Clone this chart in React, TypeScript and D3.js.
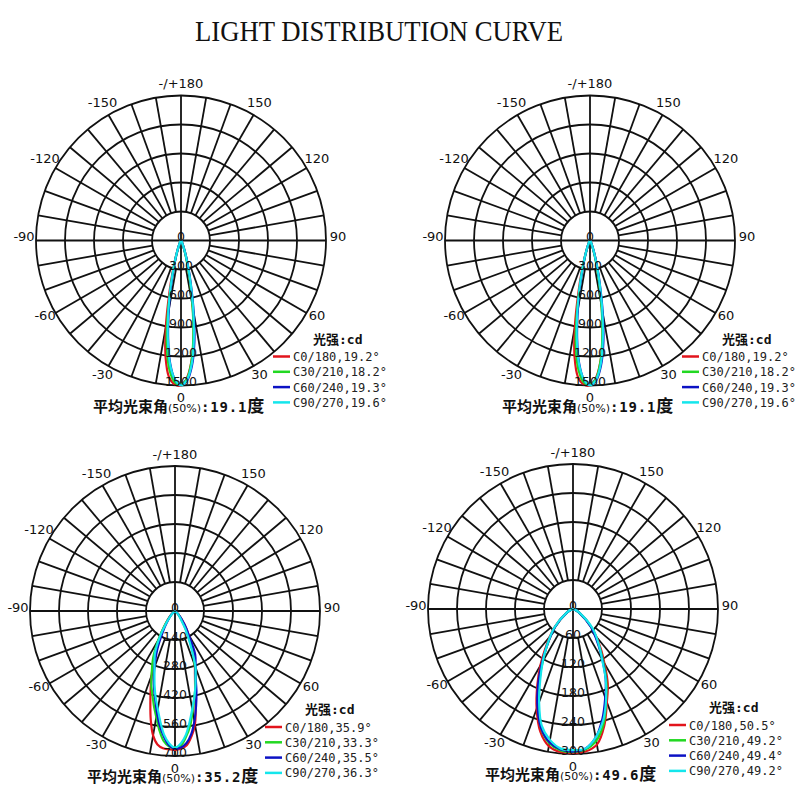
import React from "react";
import * as d3 from "d3";

const R = 145;

// angles (deg, 0 = straight down, positive to the right)
const narrowAngles = [-45, -35, -30, -25, -20, -17.5, -15, -12.5, -10, -7.5, -5, -2.5, 0, 2.5, 5, 7.5, 10, 12.5, 15, 17.5, 20, 25, 30, 35, 45];
const narrowC0 = [0, 5, 15, 40, 100, 190, 330, 560, 900, 1220, 1420, 1490, 1500, 1420, 1250, 1000, 700, 450, 280, 170, 95, 35, 12, 4, 0];
const narrowC30 = [0, 4, 12, 35, 90, 170, 290, 480, 800, 1120, 1350, 1470, 1490, 1430, 1250, 980, 680, 420, 250, 150, 85, 30, 10, 3, 0];
const narrowC60 = [0, 4, 12, 35, 95, 170, 280, 460, 720, 1020, 1280, 1440, 1495, 1450, 1300, 1060, 760, 480, 300, 180, 100, 38, 13, 4, 0];
const narrowC90 = [0, 4, 12, 38, 100, 180, 300, 500, 760, 1040, 1290, 1440, 1500, 1440, 1280, 1020, 730, 470, 290, 170, 95, 35, 12, 4, 0];

const mediumAngles = [-60, -45, -35, -30, -25, -20, -17.5, -15, -12.5, -10, -7.5, -5, -2.5, 0, 2.5, 5, 7.5, 10, 12.5, 15, 17.5, 20, 25, 30, 35, 45, 60];
const mediumC0 = [0, 30, 90, 150, 230, 330, 390, 460, 540, 610, 650, 665, 668, 670, 665, 650, 610, 555, 460, 375, 320, 280, 200, 130, 80, 25, 0];
const mediumC30 = [0, 25, 90, 160, 250, 330, 380, 420, 470, 520, 580, 630, 655, 660, 650, 610, 560, 490, 430, 380, 330, 280, 190, 110, 60, 20, 0];
const mediumC60 = [0, 25, 70, 120, 200, 290, 340, 390, 440, 500, 560, 610, 650, 665, 660, 640, 600, 540, 470, 400, 330, 290, 230, 130, 80, 25, 0];
const mediumC90 = [0, 20, 80, 150, 230, 290, 330, 380, 430, 480, 540, 600, 640, 660, 640, 600, 540, 480, 430, 380, 330, 290, 170, 100, 50, 20, 0];

const wideAngles = [-90, -75, -60, -45, -35, -30, -25, -20, -15, -10, -5, 0, 5, 10, 15, 20, 25, 30, 35, 45, 60, 75, 90];
const wideC0 = [0, 3, 15, 55, 100, 135, 175, 220, 262, 288, 297, 298, 296, 285, 250, 205, 170, 130, 100, 55, 15, 3, 0];
const wideC30 = [0, 3, 14, 52, 95, 125, 165, 210, 255, 282, 294, 296, 292, 277, 245, 200, 163, 125, 95, 55, 14, 3, 0];
const wideC60 = [0, 3, 14, 52, 95, 128, 170, 215, 255, 280, 292, 295, 290, 270, 235, 195, 160, 122, 92, 52, 14, 3, 0];
const wideC90 = [0, 3, 15, 55, 95, 125, 160, 205, 250, 275, 290, 292, 290, 270, 240, 200, 160, 120, 95, 58, 15, 3, 0];

const planeNames = ["C0/180", "C30/210", "C60/240", "C90/270"];
const planeColors = ["#e2141c", "#22d822", "#0c12c4", "#14e6ec"];

const narrowBeams = [19.2, 18.2, 19.3, 19.6];
const mediumBeams = [35.9, 33.3, 35.5, 36.3];
const wideBeams = [50.5, 49.2, 49.4, 49.2];

const narrowTicks = [0, 300, 600, 900, 1200, 1500];
const mediumTicks = [0, 140, 280, 420, 560, 700];
const wideTicks = [0, 60, 120, 180, 240, 300];

const angleTicks = [0, 30, 60, 90, 120, 150, 180, -150, -120, -90, -60, -30];

const charts = [
    { cx: 181, cy: 240.5, angles: narrowAngles, series: [narrowC0, narrowC30, narrowC60, narrowC90], ticks: narrowTicks, beams: narrowBeams, avg: "19.1", legendDx: 0 },
    { cx: 590, cy: 240.5, angles: narrowAngles, series: [narrowC0, narrowC30, narrowC60, narrowC90], ticks: narrowTicks, beams: narrowBeams, avg: "19.1", legendDx: 0 },
    { cx: 175, cy: 611, angles: mediumAngles, series: [mediumC0, mediumC30, mediumC60, mediumC90], ticks: mediumTicks, beams: mediumBeams, avg: "35.2", legendDx: -2 },
    { cx: 573, cy: 609, angles: wideAngles, series: [wideC0, wideC30, wideC60, wideC90], ticks: wideTicks, beams: wideBeams, avg: "49.6", legendDx: 4 }
];

const rad = (deg: number) => (deg * Math.PI) / 180;

function PolarChart({ cx, cy, angles, series, ticks, beams, avg, legendDx }: any) {
    const maxVal = ticks[ticks.length - 1];
    const rScale = d3.scaleLinear().domain([0, maxVal]).range([0, R]);
    const r1 = rScale(ticks[1]);

    const line = d3
        .lineRadial<[number, number]>()
        .angle(d => Math.PI - rad(d[0]))
        .radius(d => rScale(d[1]))
        .curve(d3.curveCatmullRom.alpha(0.5));

    const spokes = d3.range(0, 360, 10).filter(a => a % 90 !== 0);

    return (
        <g>
            <g transform={`translate(${cx},${cy})`} stroke="#111" fill="none" strokeWidth={1.8}>
                {ticks.slice(1).map((t: number) => (
                    <circle key={t} r={rScale(t)} />
                ))}
                {spokes.map(a => (
                    <line
                        key={a}
                        x1={r1 * Math.sin(rad(a))}
                        y1={r1 * Math.cos(rad(a))}
                        x2={R * Math.sin(rad(a))}
                        y2={R * Math.cos(rad(a))}
                    />
                ))}
                <line x1={0} y1={-R} x2={0} y2={R} />
                <line x1={-R} y1={0} x2={R} y2={0} />
            </g>

            <g transform={`translate(${cx},${cy})`} fill="none" strokeWidth={2.2}>
                {series.map((vals: number[], i: number) => (
                    <path
                        key={i}
                        d={line(angles.map((a: number, j: number) => [a, vals[j]] as [number, number])) || ""}
                        stroke={planeColors[i]}
                        strokeLinejoin="round"
                    />
                ))}
            </g>

            <g transform={`translate(${cx},${cy})`} fontFamily="DejaVu Sans" fontSize={12.5} fill="#111" textAnchor="middle">
                {ticks.map((t: number) => (
                    <text key={t} x={0} y={rScale(t) + 0.5}>
                        {t}
                    </text>
                ))}
            </g>

            <g transform={`translate(${cx},${cy})`} fontFamily="DejaVu Sans" fontSize={13} fill="#111" textAnchor="middle" dominantBaseline="central">
                {angleTicks.map(a => (
                    <text
                        key={a}
                        x={157 * Math.sin(rad(a))}
                        y={157 * Math.cos(rad(a)) - 4 * Math.abs(Math.sin(rad(a)))}
                    >
                        {a === 180 ? "-/+180" : a}
                    </text>
                ))}
            </g>

            <g transform={`translate(${cx + legendDx},${cy})`}>
                <text x={132} y={103} fontSize={13} fontWeight={700} fill="#111">
                    <tspan fontFamily="Noto Sans CJK SC">光强</tspan>
                    <tspan fontFamily="DejaVu Sans Mono">:cd</tspan>
                </text>
                {planeNames.map((name, i) => (
                    <g key={name} transform={`translate(0,${116 + i * 15.3})`}>
                        <line x1={92} x2={109} y1={0} y2={0} stroke={planeColors[i]} strokeWidth={2.5} />
                        <text x={112} y={4.5} fontFamily="DejaVu Sans Mono" fontSize={12} fill="#222">
                            {`${name},${beams[i]}°`}
                        </text>
                    </g>
                ))}
            </g>

            <text x={cx - 88} y={cy + 171} fill="#111">
                <tspan fontFamily="Noto Sans CJK SC" fontWeight={700} fontSize={15}>平均光束角</tspan>
                <tspan fontFamily="DejaVu Sans" fontSize={11}>(50%)</tspan>
                <tspan fontFamily="DejaVu Sans Mono" fontWeight={700} fontSize={14} letterSpacing={0.8}>{`:${avg}`}</tspan>
                <tspan fontFamily="Noto Sans CJK SC" fontWeight={700} fontSize={17}>度</tspan>
            </text>
        </g>
    );
}

export default function App() {
    return (
        <div style={{ position: "absolute", left: 0, top: 0 }}>
            <svg width={800} height={800} style={{ display: "block", background: "#fff" }}>
                <text
                    x={195}
                    y={41}
                    fontFamily="Liberation Serif"
                    fontSize={30}
                    textLength={368}
                    lengthAdjust="spacingAndGlyphs"
                    fill="#111"
                >
                    LIGHT DISTRIBUTION CURVE
                </text>
                {charts.map((c, i) => (
                    <PolarChart key={i} {...c} />
                ))}
            </svg>
        </div>
    );
}
